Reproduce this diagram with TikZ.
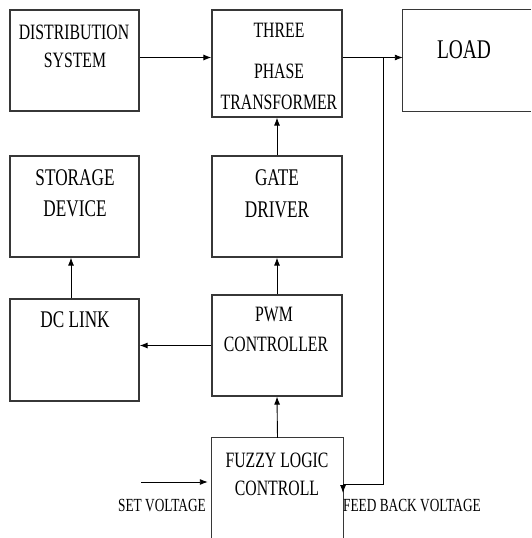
\documentclass[tikz,border=0pt]{standalone}
\usepackage{fontspec}
\setmainfont{Liberation Serif}[FakeStretch=0.72]
\usetikzlibrary{arrows.meta,fit}
\definecolor{boxgray}{RGB}{55,55,55}
\begin{document}
\begin{tikzpicture}[x=1pt,y=-1pt,
  box/.style={draw=boxgray,line width=1.2pt,inner sep=0pt},
  openbox/.style={inner sep=0pt},
  edge/.style={draw=boxgray,line width=1.2pt},
  arr/.style={line width=0.9pt,-{Latex[length=8pt,width=6pt]}},
  lbl/.style={anchor=base,inner sep=0pt,font=\fontsize{21.9}{21.9}\selectfont},
  lblb/.style={anchor=base,inner sep=0pt,font=\fontsize{23.9}{23.9}\selectfont},
  lbls/.style={anchor=base west,inner sep=0pt,font=\fontsize{18.5}{18.5}\selectfont}]
\useasboundingbox (0,0) rectangle (531,538);
% boxes
\node[box,fit={(10,10) (139,111)}] (dist) {};
\node[box,fit={(212,10) (342,117)}] (trans) {};
\node[openbox,fit={(403,10) (531,111)}] (load) {};
\draw[edge] (load.north east) -- (load.north west) -- (load.south west) -- (load.south east);
\node[box,fit={(10,156) (139,257)}] (storage) {};
\node[box,fit={(212,156) (342,257)}] (gate) {};
\node[box,fit={(10,299) (139,401)}] (dclink) {};
\node[box,fit={(212,295) (342,396)}] (pwm) {};
\node[openbox,fit={(212,438) (343,538)}] (fuzzy) {};
\draw[edge] (fuzzy.south west) -- (fuzzy.north west) -- (fuzzy.north east) -- (fuzzy.south east);
% labels
\node[lbl] (t1) at (74,39) {DISTRIBUTION};
\node[lbl] (t2) at (75,67) {SYSTEM};
\node[lbl] (t3) at (279,37) {THREE};
\node[lbl] (t4) at (279,78) {PHASE};
\node[lbl] (t5) at (279,109) {TRANSFORMER};
\node[anchor=base,inner sep=0pt,font=\fontsize{27}{27}\selectfont] (t6) at (464,58) {LOAD};
\node[lblb] (t7) at (75,185) {STORAGE};
\node[lblb] (t8) at (75,216) {DEVICE};
\node[lblb] (t9) at (277,185) {GATE};
\node[lblb] (t10) at (277,217) {DRIVER};
\node[lblb] (t11) at (75,327) {DC LINK};
\node[lbl] (t12) at (274,321) {PWM};
\node[lbl] (t13) at (276,351) {CONTROLLER};
\node[lbl] (t14) at (277,467) {FUZZY LOGIC};
\node[lbl] (t15) at (277,495) {CONTROLL};
\node[lbls] (t16) at (118,511) {SET VOLTAGE};
\node[lbls] (t17) at (343,511) {FEED BACK VOLTAGE};
% connectors
\coordinate (tap) at (383,57.5);
\coordinate (svstart) at (141,482);
\coordinate (fbturn) at (343,484);
\coordinate (fbend) at (343,493);
\draw[arr] (dist.east |- tap) -- (trans.west |- tap);
\draw[arr] (trans.east |- tap) -- (load.west |- tap);
\draw[arr] (gate.north) -- (trans.south);
\draw[arr] (pwm.north) -- (gate.south);
\draw[arr] (fuzzy.north) -- (pwm.south);
\draw[arr] ([xshift=-3.5pt]dclink.north) -- ([xshift=-3.5pt]storage.south);
\draw[arr] (pwm.west) -- (dclink.east |- pwm.west);
\draw[arr,shorten >=4pt] (svstart) -- (svstart -| fuzzy.west);
\draw[arr] (tap) |- (fbturn) -- (fbend);
\end{tikzpicture}
\end{document}
